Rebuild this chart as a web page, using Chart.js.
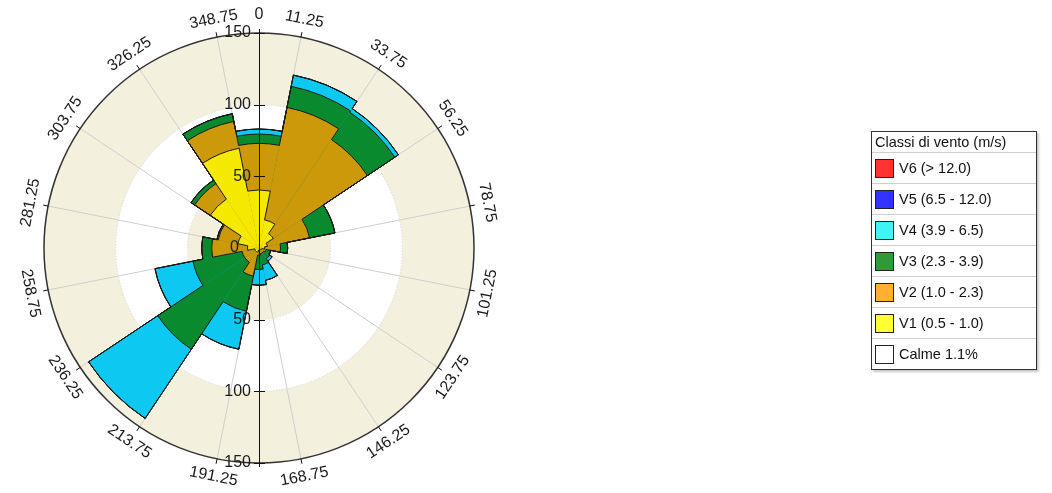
<!DOCTYPE html>
<html>
<head>
<meta charset="utf-8">
<script src="https://cdn.jsdelivr.net/npm/chart.js@4.4.0/dist/chart.umd.min.js"></script>
<style>
  body { margin: 0; background: #fff; font-family: "Liberation Sans", Arial, sans-serif; }
  #wrap { position: absolute; left: 0; top: 0; width: 1052px; height: 493px; }
  #legend {
    position: absolute; left: 871px; top: 131px; width: 164px;
    border: 1px solid #333; background: #fff; box-shadow: 2px 2px 2px #c8c8c8;
    font-size: 14.5px; color: #111;
  }
  #legend .title { height: 20px; line-height: 20px; padding-left: 3px; font-size: 14.5px; }
  #legend .item { height: 30px; border-top: 1px solid #cfcfcf; display: flex; align-items: center; padding-left: 3px; }
  #legend .sw { width: 17px; height: 17px; border: 1px solid #222; margin-right: 5px; }
</style>
</head>
<body>
<div id="wrap"><canvas id="rose" width="1052" height="493"></canvas></div>
<div id="legend"></div>
<script>
// sectors centred on N, NNE, ... (22.5 deg each)
const directions = ['N','NNE','NE','ENE','E','ESE','SE','SSE','S','SSW','SW','WSW','W','WNW','NW','NNW'];

// frequency per class and sector
const v1 = [40.5, 20, 12, 6, 4, 2, 1.5, 1.5, 1.5, 3, 3, 3, 8, 15, 41, 71];
const v2 = [32.5, 80, 79, 30, 11, 3, 2.5, 2.5, 3.5, 17, 9, 9, 25, 14, 13, 19];
const v3 = [6.5, 15, 23, 18, 5, 3, 5, 8, 10, 25, 73, 35, 7, 1, 3, 5.5];
const v4 = [3.5, 8, 3, 0, 0, 0.5, 2, 11, 11, 27, 58, 27, 0, 0, 0, 0];
const v5 = [0, 0, 0, 0, 0, 0, 0, 0, 0, 0, 0, 0, 0, 0, 0, 0];
const v6 = [0, 0, 0, 0, 0, 0, 0, 0, 0, 0, 0, 0, 0, 0, 0, 0];

const classLabels = ['V1 (0.5 - 1.0)', 'V2 (1.0 - 2.3)', 'V3 (2.3 - 3.9)', 'V4 (3.9 - 6.5)', 'V5 (6.5 - 12.0)', 'V6 (> 12.0)'];
const calmLabel = 'Calme 1.1%';
const legendTitle = 'Classi di vento (m/s)';

// direction tick labels (sector edges) and radial ticks
const directionTicks = ['0','11.25','33.75','56.25','78.75','101.25','123.75','146.25','168.75',
  '191.25','213.75','236.25','258.75','281.25','303.75','326.25','348.75'];
const radialTicks = [0, 50, 100, 150];

const roseColors = ['#f5e900', '#cc990a', '#0a8a2e', '#0dc8f0', '#1f2fd0', '#e02020'];
const legendColors = ['#ffff33', '#ffb030', '#2e9a3a', '#40f4f4', '#3333ff', '#ff3333'];

// stacked totals, smallest first so V1 ends up drawn on top
const classes = [v1, v2, v3, v4, v5, v6];
let running = new Array(directions.length).fill(0);
const stacked = classes.map(arr => {
  running = running.map((s, i) => s + arr[i]);
  return running.slice();
});

const datasets = stacked.map((data, k) => ({
  label: classLabels[k],
  data: data,
  backgroundColor: roseColors[k],
  borderWidth: 0
}));

const bgPlugin = {
  id: 'roseBackground',
  beforeDatasetsDraw(chart) {
    const s = chart.scales.r;
    const ctx = chart.ctx;
    const cx = s.xCenter, cy = s.yCenter, R = s.drawingArea;
    ctx.save();
    ctx.fillStyle = '#f3f1dd';
    ctx.beginPath(); ctx.arc(cx, cy, R, 0, Math.PI * 2); ctx.fill();
    ctx.fillStyle = '#fff';
    ctx.beginPath(); ctx.arc(cx, cy, s.getDistanceFromCenterForValue(100), 0, Math.PI * 2); ctx.fill();
    ctx.fillStyle = '#f3f1dd';
    ctx.beginPath(); ctx.arc(cx, cy, s.getDistanceFromCenterForValue(50), 0, Math.PI * 2); ctx.fill();
    ctx.strokeStyle = '#d8d8d8';
    ctx.setLineDash([1, 2]);
    [50, 100].forEach(v => {
      ctx.beginPath(); ctx.arc(cx, cy, s.getDistanceFromCenterForValue(v), 0, Math.PI * 2); ctx.stroke();
    });
    ctx.setLineDash([]);
    ctx.strokeStyle = '#cfcfcf';
    ctx.lineWidth = 1;
    directionTicks.slice(1).forEach(t => {
      const a = (parseFloat(t) - 90) * Math.PI / 180;
      ctx.beginPath();
      ctx.moveTo(cx, cy);
      ctx.lineTo(cx + R * Math.cos(a), cy + R * Math.sin(a));
      ctx.stroke();
    });
    ctx.restore();
  },
  afterDatasetsDraw(chart) {
    const s = chart.scales.r;
    const ctx = chart.ctx;
    const cx = s.xCenter, cy = s.yCenter, R = s.drawingArea;
    ctx.save();

    // outline of each stacked class
    ctx.strokeStyle = '#1a1a1a';
    ctx.lineWidth = 1;
    for (let k = 0; k < datasets.length; k++) {
      const arcs = chart.getDatasetMeta(k).data;
      ctx.beginPath();
      arcs.forEach(el => {
        const p = el.getProps(['x', 'y', 'startAngle', 'endAngle', 'outerRadius']);
        ctx.arc(p.x, p.y, p.outerRadius, p.startAngle, p.endAngle);
      });
      ctx.closePath();
      ctx.stroke();
    }

    // outer circle
    ctx.strokeStyle = '#333';
    ctx.lineWidth = 1.5;
    ctx.beginPath(); ctx.arc(cx, cy, R, 0, Math.PI * 2); ctx.stroke();

    // vertical axis with value ticks
    ctx.strokeStyle = '#111';
    ctx.lineWidth = 1;
    ctx.beginPath(); ctx.moveTo(cx + 0.5, cy - R - 4); ctx.lineTo(cx + 0.5, cy + R + 4); ctx.stroke();
    ctx.font = '16px "Liberation Sans", Arial, sans-serif';
    ctx.fillStyle = '#1a1a1a';
    ctx.textAlign = 'right';
    ctx.textBaseline = 'middle';
    radialTicks.forEach(v => {
      const d = s.getDistanceFromCenterForValue(v);
      const ys = v === 0 ? [cy] : [cy - d, cy + d];
      ys.forEach(y => {
        if (v !== 0) {
          ctx.beginPath(); ctx.moveTo(cx - 5, Math.round(y) + 0.5); ctx.lineTo(cx + 6, Math.round(y) + 0.5); ctx.stroke();
        }
        ctx.fillText(String(v), cx - (v === 0 ? 20 : 8), y);
      });
    });

    // sector edge ticks and rotated labels
    ctx.textAlign = 'center';
    directionTicks.forEach(t => {
      const deg = parseFloat(t);
      const a = (deg - 90) * Math.PI / 180;
      if (deg !== 0) {
        ctx.beginPath();
        ctx.moveTo(cx + R * Math.cos(a), cy + R * Math.sin(a));
        ctx.lineTo(cx + (R + 5) * Math.cos(a), cy + (R + 5) * Math.sin(a));
        ctx.stroke();
      }
      let rot = deg;
      if (deg > 90 && deg <= 270) rot = deg - 180;
      else if (deg > 270) rot = deg - 360;
      const rr = R + 18;
      ctx.save();
      ctx.translate(cx + rr * Math.cos(a), cy + rr * Math.sin(a));
      ctx.rotate(rot * Math.PI / 180);
      ctx.fillText(t, 0, 0);
      ctx.restore();
    });
    ctx.restore();
  }
};

new Chart(document.getElementById('rose').getContext('2d'), {
  type: 'polarArea',
  data: { labels: directions, datasets: datasets },
  options: {
    responsive: false,
    animation: false,
    events: [],
    layout: { padding: { left: 44, right: 578, top: 33, bottom: 30 } },
    plugins: { legend: { display: false }, tooltip: { enabled: false } },
    scales: {
      r: {
        min: 0,
        max: 150,
        startAngle: -11.25,
        ticks: { display: false },
        grid: { display: false },
        angleLines: { display: false },
        pointLabels: { display: false }
      }
    }
  },
  plugins: [bgPlugin]
});

// legend, highest class first
const legend = document.getElementById('legend');
let html = '<div class="title">' + legendTitle + '</div>';
for (let k = classLabels.length - 1; k >= 0; k--) {
  html += '<div class="item"><span class="sw" style="background:' + legendColors[k] + '"></span>' + classLabels[k] + '</div>';
}
html += '<div class="item"><span class="sw" style="background:#fff"></span>' + calmLabel + '</div>';
legend.innerHTML = html;
</script>
</body>
</html>
